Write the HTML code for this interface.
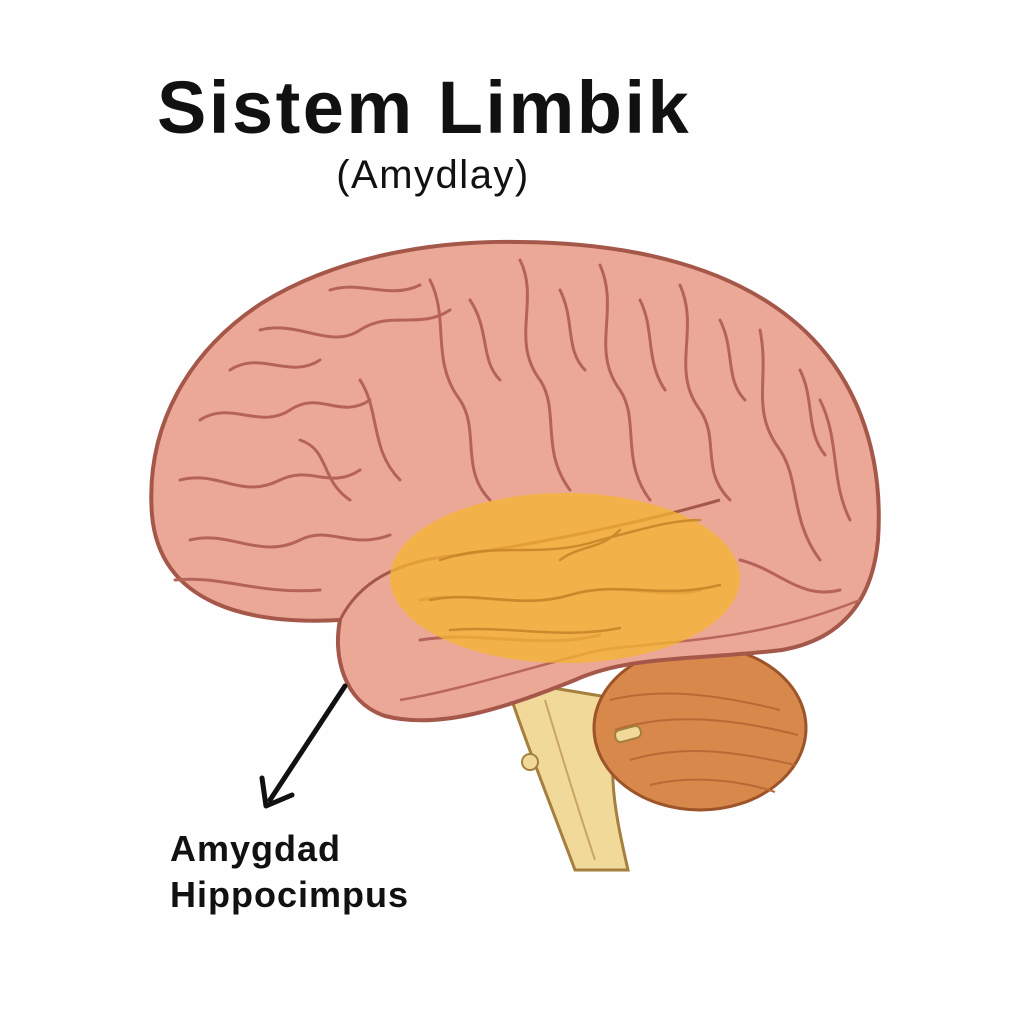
<!DOCTYPE html>
<html><head><style>
html,body{margin:0;padding:0;background:#fefefe;}
svg{display:block}
</style></head><body>
<svg width="1024" height="1024" viewBox="0 0 1024 1024" xmlns="http://www.w3.org/2000/svg">
<rect width="1024" height="1024" fill="#fefefe"/>
<text x="157" y="133" font-family="Liberation Sans, sans-serif" font-weight="bold" font-size="74" letter-spacing="2.5" fill="#111">Sistem Limbik</text>
<text x="433" y="188" text-anchor="middle" font-family="Liberation Sans, sans-serif" font-size="40" letter-spacing="1.5" fill="#111">(Amydlay)</text>
<!-- brainstem -->
<path d="M505,680 C525,740 545,790 575,870 L628,870 C612,800 605,760 625,700 Z" fill="#f1d99a" stroke="#a57f3e" stroke-width="3"/>
<path d="M545,700 C560,750 575,800 595,860" stroke="#c9a660" stroke-width="2" fill="none"/>
<circle cx="530" cy="762" r="8" fill="#f1d99a" stroke="#a57f3e" stroke-width="2"/>
<!-- cerebellum -->
<ellipse cx="700" cy="728" rx="106" ry="82" fill="#d8884a" stroke="#9c5428" stroke-width="3"/>
<path d="M610,700 C650,690 700,690 780,710 M615,730 C660,715 720,715 798,735 M630,760 C680,745 730,750 795,765 M650,785 C690,775 740,780 775,792" stroke="#b76a36" stroke-width="2" fill="none"/>
<rect x="615" y="728" width="26" height="12" rx="5" fill="#f1d99a" stroke="#a57f3e" stroke-width="2" transform="rotate(-15 628 734)"/>
<!-- cerebrum -->
<path d="M340,620 C250,625 160,605 152,515 C145,425 190,350 262,303 C335,258 430,240 520,242 C620,243 720,262 790,318 C855,370 884,450 878,540 C872,605 838,640 782,650 C700,660 630,655 575,680 C505,708 440,730 385,716 C343,702 333,655 340,620 Z" fill="#eca896" stroke="#a5584a" stroke-width="4"/>
<path d="M340,620 C360,580 400,560 460,555 C560,540 650,520 720,500" fill="none" stroke="#a5584a" stroke-width="3"/>
<path d="M400,700 C460,690 520,670 600,650 C680,640 760,640 860,600" fill="none" stroke="#b8675a" stroke-width="2.5"/>
<!-- gyri -->
<g fill="none" stroke="#b5635a" stroke-width="3" stroke-linecap="round">
<path d="M200,420 C230,400 260,430 290,410 C320,390 340,420 370,400"/>
<path d="M180,480 C220,470 240,500 280,480 C310,465 330,490 360,470"/>
<path d="M190,540 C230,530 260,560 300,540 C330,525 350,550 390,535"/>
<path d="M175,580 C220,575 260,595 320,590"/>
<path d="M230,370 C260,350 290,380 320,360"/>
<path d="M260,330 C300,320 330,350 360,330 C390,310 420,330 450,310"/>
<path d="M330,290 C360,280 390,300 420,285"/>
<path d="M430,280 C450,320 430,360 460,400 C480,430 460,470 490,500"/>
<path d="M470,300 C490,330 480,360 500,380"/>
<path d="M520,260 C540,300 510,340 540,380 C560,410 540,450 570,490"/>
<path d="M560,290 C575,320 565,350 585,370"/>
<path d="M600,265 C620,310 590,350 620,390 C640,420 620,460 650,500"/>
<path d="M640,300 C655,330 645,360 665,390"/>
<path d="M680,285 C700,330 670,370 700,410 C720,440 700,470 730,500"/>
<path d="M720,320 C735,350 725,380 745,400"/>
<path d="M760,330 C770,380 750,410 780,450 C800,480 790,520 820,560"/>
<path d="M800,370 C815,400 805,430 825,455"/>
<path d="M820,400 C840,440 830,480 850,520"/>
<path d="M360,380 C380,410 370,450 400,480"/>
<path d="M300,440 C330,450 320,480 350,500"/>
<path d="M740,560 C780,570 800,600 840,590"/>
<path d="M420,600 C470,590 520,610 570,595 C620,580 660,600 700,590"/>
<path d="M420,640 C480,630 540,650 600,635"/>
</g>
<!-- highlight -->
<ellipse cx="565" cy="578" rx="175" ry="85" fill="#f4b433" opacity="0.78"/>
<g fill="none" stroke="#c9862a" stroke-width="2.5" stroke-linecap="round" opacity="0.9">
<path d="M430,600 C480,590 520,610 570,595 C620,580 660,600 720,585"/>
<path d="M440,560 C500,540 540,560 600,540 C640,530 670,520 700,520"/>
<path d="M450,630 C510,625 560,640 620,628"/>
<path d="M560,560 C580,545 600,550 620,530"/>
</g>
<!-- arrow -->
<line x1="345" y1="686" x2="270" y2="800" stroke="#111" stroke-width="5" stroke-linecap="round"/>
<polyline points="262,778 266,806 292,795" fill="none" stroke="#111" stroke-width="5" stroke-linecap="round" stroke-linejoin="round"/>
<text x="170" y="861" font-family="Liberation Sans, sans-serif" font-weight="bold" font-size="36" letter-spacing="1" fill="#111">Amygdad</text>
<text x="170" y="907" font-family="Liberation Sans, sans-serif" font-weight="bold" font-size="36" letter-spacing="1" fill="#111">Hippocimpus</text>
</svg>
</body></html>
